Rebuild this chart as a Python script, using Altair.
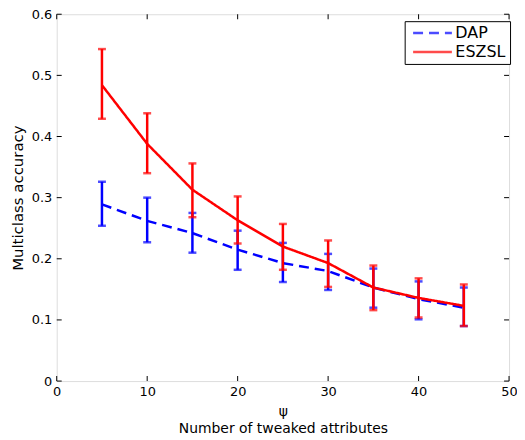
import altair as alt
import pandas as pd

x_vals = [5, 10, 15, 20, 25, 30, 35, 40, 45]
dap_mean = [0.289, 0.262, 0.242, 0.215, 0.193, 0.180, 0.153, 0.134, 0.120]
dap_lo = [0.254, 0.227, 0.210, 0.182, 0.162, 0.149, 0.120, 0.101, 0.090]
dap_hi = [0.326, 0.300, 0.275, 0.246, 0.226, 0.208, 0.184, 0.163, 0.153]
es_mean = [0.484, 0.388, 0.313, 0.263, 0.220, 0.193, 0.153, 0.136, 0.123]
es_lo = [0.429, 0.340, 0.268, 0.225, 0.182, 0.154, 0.116, 0.104, 0.090]
es_hi = [0.543, 0.438, 0.356, 0.302, 0.257, 0.230, 0.189, 0.168, 0.158]
series = ["DAP", "ESZSL"]
x_ticks = [0, 10, 20, 30, 40, 50]
y_ticks = [0, 0.1, 0.2, 0.3, 0.4, 0.5, 0.6]

rows = []
for name, m, lo, hi in [("DAP", dap_mean, dap_lo, dap_hi), ("ESZSL", es_mean, es_lo, es_hi)]:
    for xv, a, b, c in zip(x_vals, m, lo, hi):
        rows.append({"x": xv, "acc": a, "lo": b, "hi": c, "method": name})
df = pd.DataFrame(rows)

W, H = 455, 369
FONT = "DejaVu Sans"

xscale = alt.Scale(domain=[0, 50], nice=False, padding=0, zero=False)
yscale = alt.Scale(domain=[0, 0.6], nice=False, padding=0)
cscale = alt.Scale(domain=series, range=["#0000ff", "#ff0000"])
dscale = alt.Scale(domain=series, range=[[10, 6], [1, 0]])

xaxis = alt.Axis(values=x_ticks, ticks=False, domain=False, grid=False, labelPadding=5,
                 labelFontSize=13, labelFlush=False, title=["ψ", "Number of tweaked attributes"],
                 titleFontSize=14, titleFontWeight="normal", titlePadding=6, titleLineHeight=17)
yaxis = alt.Axis(values=y_ticks, ticks=False, domain=False, grid=False, labelPadding=5,
                 labelFontSize=13, labelFlush=False,
                 labelExpr="datum.value == 0 ? '0' : format(datum.value, '.1f')",
                 title="Multiclass accuracy", titleFontSize=15, titleFontWeight="normal", titlePadding=6)

base = alt.Chart(df)

legend = alt.Legend(title=None, orient="none", legendX=350, legendY=7, strokeColor="black",
                    fillColor="white", padding=4, symbolType="M-3,0H3", symbolSize=169,
                    symbolOffset=16, symbolStrokeWidth=2.5, labelFontSize=16, rowPadding=3,
                    cornerRadius=0, labelOffset=15)

layers = []
for name in series:
    sub = base.transform_filter(alt.datum.method == name)
    line = sub.mark_line(strokeWidth=2.5).encode(
        x=alt.X("x:Q", scale=xscale, axis=xaxis),
        y=alt.Y("acc:Q", scale=yscale, axis=yaxis),
        color=alt.Color("method:N", scale=cscale, legend=legend),
        strokeDash=alt.StrokeDash("method:N", scale=dscale, legend=legend),
    )
    err = sub.mark_errorbar(ticks=True, thickness=2.5, size=8).encode(
        x=alt.X("x:Q", scale=xscale, axis=xaxis),
        y=alt.Y("lo:Q", scale=yscale, axis=yaxis),
        y2="hi:Q",
        color=alt.Color("method:N", scale=cscale, legend=legend),
    )
    layers += [line, err]

ydf = pd.DataFrame({"v": y_ticks})
xdf = pd.DataFrame({"v": x_ticks})
tick_layers = [
    alt.Chart(ydf).mark_tick(color="black", size=5, thickness=1, opacity=1).encode(
        y=alt.Y("v:Q", scale=yscale, axis=yaxis), x=alt.value(2.5)),
    alt.Chart(ydf).mark_tick(color="black", size=5, thickness=1, opacity=1).encode(
        y=alt.Y("v:Q", scale=yscale, axis=yaxis), x=alt.value(W - 2.5)),
    alt.Chart(xdf).mark_tick(color="black", size=5, thickness=1, opacity=1).encode(
        x=alt.X("v:Q", scale=xscale, axis=xaxis), y=alt.value(H - 2.5)),
    alt.Chart(xdf).mark_tick(color="black", size=5, thickness=1, opacity=1).encode(
        x=alt.X("v:Q", scale=xscale, axis=xaxis), y=alt.value(2.5)),
]

chart = alt.layer(*layers, *tick_layers).properties(
    width=W, height=H,
    autosize=alt.AutoSizeParams(type="none"),
    padding={"left": 49, "top": 5, "right": 8, "bottom": 55},
).configure_view(stroke="black", strokeWidth=1).configure(
    font=FONT
).configure_axis(labelColor="black", titleColor="black", labelFont=FONT, titleFont=FONT
).configure_legend(labelFont=FONT, labelColor="black")

chart.save("out.html", embed_options={"renderer": "svg", "actions": False})
